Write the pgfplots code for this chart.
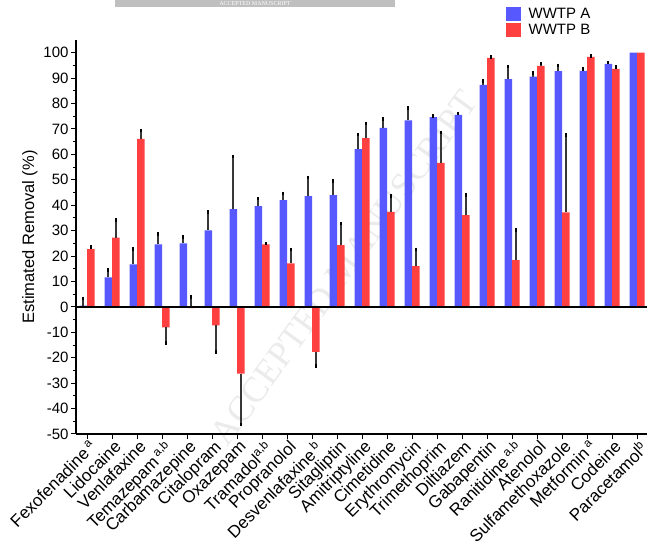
\documentclass[border=0pt]{standalone}
\usepackage{fontspec}
\setmainfont{Liberation Sans}
\newfontfamily\wmfont{Liberation Serif}
\usepackage{pgfplots}
\usepackage{pgfplotstable}
\pgfplotsset{compat=1.18}
\definecolor{barA}{RGB}{88,88,255}
\definecolor{barB}{RGB}{255,64,64}
\definecolor{errc}{RGB}{55,55,55}

% x = category index, y = removal, eu = upward error, ed = downward error
\pgfplotstableread{
x y eu ed
0 0.5 2.8 0
1 11.6 2.8 0
2 16.7 6.1 0
3 24.6 4.1 0
4 25.0 2.4 0
5 30.1 7.3 0
6 38.5 20.6 0
7 39.6 3.0 0
8 42.0 2.6 0
9 43.6 7.3 0
10 44.0 5.6 0
11 62.1 5.8 0
12 70.4 3.6 0
13 73.4 4.8 0
14 74.7 0.3 0
15 75.5 0.6 0
16 87.3 1.6 0
17 89.6 4.9 0
18 90.6 1.3 0
19 92.8 2.2 0
20 92.9 0.8 0
21 95.6 0.5 0
22 100 0 0
}\tableA

\pgfplotstableread{
x y eu ed
0 22.7 0.9 0
1 27.3 6.8 0
2 66.1 3.3 0
3 -8.1 0 6.1
4 -0.5 4.5 0
5 -7.3 0 10.4
6 -26.2 0 20.0
7 24.6 0.4 0
8 17.1 5.5 0
9 -17.7 0 5.6
10 24.3 8.5 0
11 66.4 5.8 0
12 37.4 6.3 0
13 16.0 6.6 0
14 56.7 11.9 0
15 36.1 8.0 0
16 98.0 0.3 0
17 18.4 11.9 0
18 94.8 1.0 0
19 37.2 30.5 0
20 98.4 0.3 0
21 93.6 0.7 0
22 100 0 0
}\tableB

\pgfplotsset{errstyle/.style={error bars/.cd, y explicit, y dir=#1,
   error mark=-,
   error bar style={errc, line width=1.6pt},
   error mark options={black, line width=1.8pt, mark size=1.8pt}}}

\begin{document}
\begin{tikzpicture}
% watermark and banner of the source page
\node[rotate=54, text=black!8, font=\wmfont\fontsize{36}{36}\selectfont] at (268pt,166pt) {ACCEPTED MANUSCRIPT};
\fill[black!25] (39pt,427pt) rectangle (319pt,440pt);
\node[text=white, font=\wmfont\fontsize{6}{6}\selectfont, inner sep=0pt] at (179pt,430.5pt) {ACCEPTED MANUSCRIPT};
\begin{axis}[
  at={(0pt,0pt)}, anchor=south west,
  width=571pt, height=394pt, scale only axis,
  xmin=-0.44, xmax=22.4, ymin=-50, ymax=105,
  axis x line*=bottom, axis y line*=left,
  axis line style={black, line width=1.2pt},
  xtick={0,...,22},
  xticklabels={
    Fexofenadine\,\textsuperscript{a},
    Lidocaine,
    Venlafaxine,
    {Temazepam\,\textsuperscript{a,b}},
    Carbamazepine,
    Citalopram,
    Oxazepam,
    {Tramadol\textsuperscript{a,b}},
    Propranolol,
    Desvenlafaxine\,\textsuperscript{b},
    Sitagliptin,
    Amitriptyline,
    Cimetidine,
    Erythromycin,
    Trimethoprim,
    Diltiazem,
    Gabapentin,
    {Ranitidine\,\textsuperscript{a,b}},
    Atenolol,
    Sulfamethoxazole,
    Metformin\,\textsuperscript{a},
    Codeine,
    Paracetamol\textsuperscript{b}},
  ytick={-50,-40,...,100},
  minor y tick num=1,
  tick align=outside,
  major tick length=5pt, minor tick length=3pt,
  every tick/.append style={black, line width=1pt},
  /pgf/number format/assume math mode=true,
  yticklabel style={font=\fontsize{15}{15}\selectfont, xshift=1pt},
  xticklabel style={font=\fontsize{17}{17}\selectfont, rotate=45, anchor=north east, inner sep=1pt, xshift=2pt},
  ylabel={Estimated Removal (\%)},
  ylabel style={font=\fontsize{16.5}{18}\selectfont, at={(axis description cs:-0.0806,0.5)}, anchor=center},
  legend style={at={(axis description cs:0.753,1.0838)}, anchor=north west, draw=none, fill=none,
    font=\fontsize{15}{15}\selectfont, row sep=2pt, inner sep=0pt,
    nodes={inner sep=0.5pt},
    /tikz/every odd column/.append style={column sep=7pt}},
  legend cell align=left,
  legend image code/.code={\fill[#1] (0pt,-7pt) rectangle (15pt,7pt);},
  clip=false,
]
% bars
\addplot[ybar, bar width=0.3, bar shift=-0.15, fill=barA, draw=none] table[x=x, y=y]{\tableA};
\addlegendentry{WWTP A}
\addplot[ybar, bar width=0.3, bar shift=0.15, fill=barB, draw=none] table[x=x, y=y]{\tableB};
\addlegendentry{WWTP B}
% error bars (one-sided), placed at the bar centres
\addplot[draw=none, forget plot, mark=none,
  restrict expr to domain={\thisrow{eu}}{0.05:1000},
  errstyle=plus] table[x expr=\thisrow{x}-0.15, y=y, y error=eu]{\tableA};
\addplot[draw=none, forget plot, mark=none,
  restrict expr to domain={\thisrow{eu}}{0.05:1000},
  errstyle=plus] table[x expr=\thisrow{x}+0.15, y=y, y error=eu]{\tableB};
\addplot[draw=none, forget plot, mark=none,
  restrict expr to domain={\thisrow{ed}}{0.05:1000},
  errstyle=minus] table[x expr=\thisrow{x}+0.15, y=y, y error=ed]{\tableB};
% zero line
\draw[black, line width=1.2pt] (axis cs:-0.44,0) -- (axis cs:22.4,0);
\end{axis}
\pgfresetboundingbox
\useasboundingbox (-76pt,-111pt) rectangle (571pt,434pt);
\end{tikzpicture}
\end{document}
